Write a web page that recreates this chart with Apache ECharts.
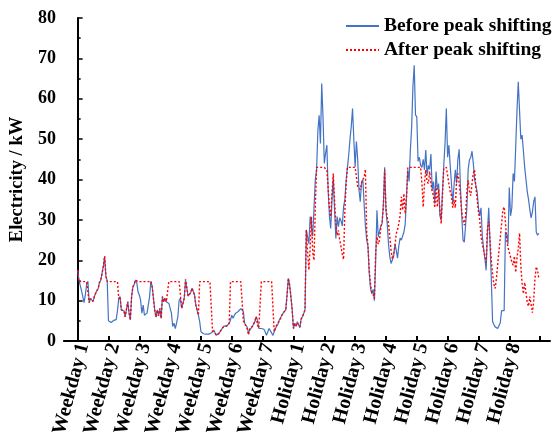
<!DOCTYPE html>
<html>
<head>
<meta charset="utf-8">
<script src="https://cdn.jsdelivr.net/npm/echarts@6/dist/echarts.min.js"></script>
<style>
  html, body { margin: 0; padding: 0; background: #fff; }
  #chart { width: 557px; height: 440px; }
</style>
</head>
<body>
<div id="chart"></div>
<script>
// Day labels along the x axis (one per 24-hour block)
const dayLabels = ['Weekday 1', 'Weekday 2', 'Weekday 3', 'Weekday 4', 'Weekday 5', 'Weekday 6', 'Weekday 7',
  'Holiday 1', 'Holiday 2', 'Holiday 3', 'Holiday 4', 'Holiday 5', 'Holiday 6', 'Holiday 7', 'Holiday 8'];
const yTicks = [0, 10, 20, 30, 40, 50, 60, 70, 80];

// Hourly load before peak shifting (kW), one array per day
const beforeW1 = [17.6,15,13.8,12.5,11,9.5,11.5,14,14.8,9.5,10.5,10.2,9.8,11,11.8,12.5,13,14.5,15,15.2,18.5,21,16,15];
const beforeW2 = [5.0,4.8,4.6,4.9,5.1,5.2,5.3,7.5,10.5,11,7.7,7.6,7.5,6,6,9.7,7,5.2,11,13.4,14,15.1,14.5,12.2];
const beforeW3 = [11.4,10.1,6.9,8.9,6.4,6.4,6.9,8.9,11,14.8,13.5,10.6,7.7,5.9,7.7,6.2,8.1,5.6,11,9.7,10.6,9.7,10.1,9.3];
const beforeW4 = [9.3,6.9,3.6,4.4,3.1,4.4,6.0,10.1,10.6,8.1,7.7,10.6,15.1,13.1,11.1,11.1,12,13.1,13.5,11.4,8.9,8.5,6.4,4.8];
const beforeW5 = [2.3,1.9,1.8,1.7,1.7,1.7,1.7,1.9,2.0,2.4,2.7,2.0,1.4,1.2,1.9,2.4,2.9,3.3,3.7,3.9,3.7,3.6,4.4,5.2];
const beforeW6 = [6.4,5.6,6.4,6.9,7.0,7.3,7.7,8.0,8.4,7.3,4.4,4.2,3.4,2.0,2.7,3.1,3.6,4.2,4.8,6.0,5.2,3.1,3.1,3.1];
const beforeW7 = [3.0,2.9,2.3,1.4,1.3,3.1,2.7,2.0,1.4,2.3,3.1,3.7,4.2,5.2,5.6,6.4,6.9,7.0,7.7,11.4,15.5,13.9,11,7.7];
const beforeH1 = [3.1,4.4,3.7,4.8,4.0,3.3,5.5,6.0,6.0,7.7,27.5,25.8,24.1,30.8,30.8,26,33,39.9,42.4,52,55.9,48.9,63.8,55.5];
const beforeH2 = [44,46.5,48.5,37.4,31,27.9,35,40.3,32.4,25.4,30.8,28.3,30.5,29.8,28.5,33.2,35,39.8,43,46,50,53.1,57.6,49.8];
const beforeH3 = [43.1,49.4,45,37.4,34.5,39.4,40,34,28.5,25,23.5,16.7,13,11.7,12.8,10,20,32.4,25.8,25.5,28.5,29.1,34.1,43];
const beforeH4 = [32.4,29,24,20.9,19.2,19.2,21,24,22.5,20.5,23.5,25.5,25,24.8,27,29,35.7,42.4,39.5,47.3,53,63,68.3,56];
const beforeH5 = [55.5,44.5,45.5,43.5,43,45,42.4,47.3,41,43.5,42.5,46.3,37.5,39.5,34,42,37.4,39,31,30,37,43.5,49,57.6];
const beforeH6 = [45.5,48.5,43.5,39,34,38.5,42.4,39,45,47.5,38,31,25,24.5,24.3,33,42.5,44.8,45.5,47,44,40,38.5,37];
const beforeH7 = [33,31,33,26,23,20.5,17.5,27,33,24.5,15.5,4.8,4.1,3.5,3.3,3.1,3.4,4.5,7.5,7.8,7.5,27,26.5,24];
const beforeH8 = [38,31,33,41.5,39.5,48,57,64.2,57,50,51,47,43,40,37,35,32.5,30.5,32,34.5,35.7,27,26.2,26.7];

// Hourly load after peak shifting (kW), one array per day
const afterW1 = [17.6,14.7,14.7,14.7,14.7,14.7,14.7,14.7,14.8,9.5,10.5,10.2,9.8,11,11.8,12.5,13,14.5,15,15.2,18.5,21,16,14.7];
const afterW2 = [14.7,14.7,14.7,14.7,14.7,14.7,14.7,14.7,10.5,11,7.7,7.6,7.5,6,6,9.7,7,5.2,11,13.4,14,15.1,14.7,14.7];
const afterW3 = [14.7,14.7,14.7,14.7,14.7,14.7,14.7,14.7,14.7,14.8,13.5,10.6,7.7,5.9,7.7,6.2,8.1,5.6,11,9.7,10.6,9.7,10.1,14.7];
const afterW4 = [14.7,14.7,14.7,14.7,14.7,14.7,14.7,14.7,14.7,8.1,7.7,10.6,15.3,13.1,11.1,11.1,12,13.1,13.5,11.4,8.9,8.5,6.4,14.7];
const afterW5 = [14.7,14.7,14.7,14.7,14.7,14.7,14.7,14.7,14.7,2.4,2.7,2.0,1.4,1.2,1.9,2.4,2.9,3.3,3.7,3.9,3.7,3.6,4.4,14.7];
const afterW6 = [14.7,14.7,14.7,14.7,14.7,14.7,14.7,14.7,14.7,5.0,4.4,4.0,3.0,1.5,3.2,3.1,3.6,4.2,5.0,6.0,4.0,3.2,3.5,14.7];
const afterW7 = [14.7,14.7,14.7,14.7,14.7,14.7,14.7,14.7,14.7,2.3,3.3,4.0,4.4,5.0,5.6,6.4,7.0,7.2,7.7,11.4,15.5,13.9,11,7.7];
const afterH1 = [3.1,4.2,3.7,4.5,4.0,3.5,5.5,6.0,6.0,7.7,27.5,22,17.6,23,30.8,22,20,33,43,43,43,43,43,43];
const afterH2 = [43,43,42.4,37.8,33,30.8,36.6,41.5,34.9,29.1,26.2,27.4,25,23.4,21.5,20.2,32.4,39,43,43,43,43,43,43];
const afterH3 = [43,43,38.3,38.5,37.5,39,40,40.5,42.5,27,23.5,17.5,14,12,11.5,10.5,22,25.8,24,25,28,29.5,33,42.4];
const afterH4 = [33,30.5,29.1,25.8,22.5,20.3,21.5,23.5,26.6,27.5,29.1,31,35.7,32.4,36.5,31.5,35.7,43,43,43,43,43,43,43];
const afterH5 = [43,43,43,43,39,33.2,39,42.4,39.5,39,42,39,37,36,33,38.5,33.2,37.5,32.4,29,36,42.8,43,43];
const afterH6 = [43,39,37,36,33,35,33,40,41.5,39,36,32,30,28.7,31,37,39.8,37,36,39,41.5,42.4,38,35];
const afterH7 = [32,30,26,24,22.5,20.9,19.5,28,29.5,25,20,16.7,14,13,15.5,19,22.5,25.5,29,32.4,33.2,29.5,25,23.2];
const afterH8 = [22,22,19.5,18.8,21,17,20.5,23,26.7,18.5,14.2,11.7,14.5,12,9.5,8.6,11,9,7,10,15.5,18.4,17.5,15.5];

const beforeDays = [beforeW1, beforeW2, beforeW3, beforeW4, beforeW5, beforeW6, beforeW7,
  beforeH1, beforeH2, beforeH3, beforeH4, beforeH5, beforeH6, beforeH7, beforeH8];
const afterDays = [afterW1, afterW2, afterW3, afterW4, afterW5, afterW6, afterW7,
  afterH1, afterH2, afterH3, afterH4, afterH5, afterH6, afterH7, afterH8];

// Turn day arrays into [hour, kW] points on a continuous hour axis
function toPoints(days) {
  const pts = [];
  days.forEach((day, d) => day.forEach((v, h) => pts.push([d * 24 + h, v])));
  return pts;
}

const HOURS = 24;
const dayBoundaries = dayLabels.map((_, i) => i * HOURS).concat([dayLabels.length * HOURS]);
const dayCentres = dayLabels.map((_, i) => i * HOURS + HOURS / 2);

const serif = '"Liberation Serif", "Times New Roman", serif';
const chart = echarts.init(document.getElementById('chart'));

chart.setOption({
  backgroundColor: '#ffffff',
  animation: false,
  grid: { left: 57, right: 7, top: 18, bottom: 99 },
  legend: {
    orient: 'vertical',
    left: 345,
    top: 16,
    padding: 0,
    itemWidth: 33,
    itemHeight: 12,
    itemGap: 4,
    itemStyle: { opacity: 0 },
    textStyle: { fontFamily: serif, fontWeight: 'bold', fontSize: 19.5, color: '#000' },
    data: ['Before peak shifting', 'After peak shifting']
  },
  xAxis: {
    type: 'value',
    min: -10.7,
    max: 367.7,
    splitLine: { show: false },
    axisLine: { lineStyle: { color: '#000', width: 2 } },
    axisTick: {
      inside: true,
      length: 5,
      lineStyle: { color: '#000', width: 2 },
      customValues: dayBoundaries
    },
    axisLabel: {
      customValues: dayCentres,
      rotate: 75,
      margin: 5,
      verticalAlign: 'bottom',
      lineHeight: 20,
      fontFamily: serif,
      fontWeight: 'bold',
      fontSize: 20,
      color: '#000',
      formatter: (v) => dayLabels[Math.round((v - HOURS / 2) / HOURS)]
    }
  },
  yAxis: {
    type: 'value',
    min: 0,
    max: 80,
    interval: 10,
    name: 'Electricity / kW',
    nameLocation: 'middle',
    nameGap: 32,
    nameTextStyle: { fontFamily: serif, fontWeight: 'bold', fontSize: 18.5, color: '#000' },
    splitLine: { show: false },
    axisLine: { show: true, lineStyle: { color: '#000', width: 2 } },
    axisTick: { show: true, inside: true, length: 5, lineStyle: { color: '#000', width: 1.5 } },
    minorTick: { show: true, splitNumber: 2, length: 3, lineStyle: { color: '#000', width: 1.5 } },
    axisLabel: {
      margin: 8,
      fontFamily: serif,
      fontWeight: 'bold',
      fontSize: 18,
      color: '#000',
      customValues: yTicks
    }
  },
  series: [
    {
      name: 'Before peak shifting',
      type: 'line',
      data: toPoints(beforeDays),
      showSymbol: false,
      symbol: 'none',
      lineStyle: { color: '#4472c4', width: 1.2 },
      itemStyle: { color: '#4472c4' }
    },
    {
      name: 'After peak shifting',
      type: 'line',
      data: toPoints(afterDays),
      showSymbol: false,
      symbol: 'none',
      lineStyle: { color: '#ff0000', width: 1.4, type: [2, 2] },
      itemStyle: { color: '#ff0000' }
    }
  ]
});
</script>
</body>
</html>
